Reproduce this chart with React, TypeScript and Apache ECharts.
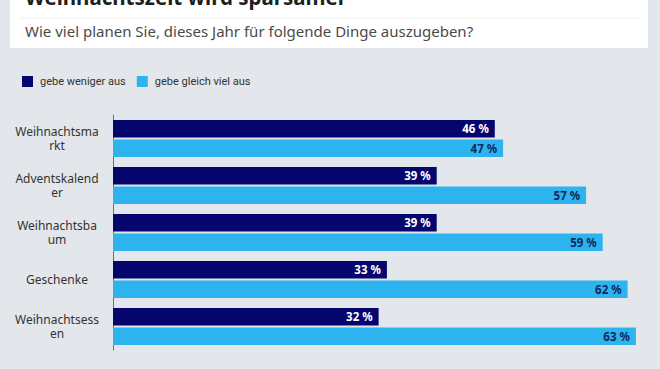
import React, { useEffect, useRef } from "react";
import * as echarts from "echarts";

const categories = ["Weihnachtsmarkt", "Adventskalender", "Weihnachtsbaum", "Geschenke", "Weihnachtsessen"];
const categoryLabels = ["Weihnachtsma\nrkt", "Adventskalend\ner", "Weihnachtsba\num", "Geschenke", "Weihnachtsess\nen"];
const seriesNames = ["gebe weniger aus", "gebe gleich viel aus"];
const wenigerValues = [46, 39, 39, 33, 32];
const gleichValues = [47, 57, 59, 62, 63];
const title = "Weihnachtszeit wird sparsamer";
const subtitle = "Wie viel planen Sie, dieses Jahr für folgende Dinge auszugeben?";

const DARK = "#05056e";
const LIGHT = "#2db4ef";
const BG = "#e3e6ea";

export default function App() {
  const ref = useRef<HTMLDivElement>(null);
  useEffect(() => {
    if (!ref.current) return;
    const chart = echarts.init(ref.current, undefined, { renderer: "svg" });
    chart.setOption({
      animation: false,
      backgroundColor: BG,
      graphic: [
        { type: "rect", shape: { x: 10, y: -2, width: 638, height: 50 }, style: { fill: "#ffffff" }, z: 0 },
        { type: "line", shape: { x1: 20, y1: 18, x2: 640, y2: 18 }, style: { stroke: "#efefef", lineWidth: 1 } },
        {
          type: "text", x: 25, y: 7,
          style: { text: title, font: "bold 20.5px 'Noto Sans', sans-serif", fill: "#1e1e1e", textVerticalAlign: "bottom" },
        },
        {
          type: "text", x: 25, y: 31,
          style: { text: subtitle, font: "15px 'Noto Sans', sans-serif", fill: "#4a4a4a", textVerticalAlign: "middle" },
        },
      ],
      legend: {
        left: 22, top: 76, padding: 0, itemWidth: 11, itemHeight: 11, itemGap: 11, icon: "rect",
        data: seriesNames,
        textStyle: { fontFamily: "Roboto, sans-serif", fontSize: 11, color: "#333", padding: [0, 0, 0, 2] },
      },
      grid: { left: 113, top: 115, width: 539.5, height: 235, containLabel: false },
      xAxis: {
        type: "value", min: 0, max: 65, show: false,
      },
      yAxis: {
        type: "category", data: categories, inverse: true,
        axisLine: { show: true, lineStyle: { color: "#6a6f80", width: 1 } },
        axisTick: { show: false },
        axisLabel: {
          margin: 56, align: "center", fontSize: 12, color: "#333", lineHeight: 14,
          fontFamily: "'Noto Sans', sans-serif",
          formatter: (v: string) => categoryLabels[categories.indexOf(v)],
        },
      },
      series: [
        {
          name: seriesNames[0], type: "bar", data: wenigerValues, barWidth: 17.5, barGap: "12%",
          itemStyle: { color: DARK },
          label: { show: true, position: "insideRight", distance: 6, formatter: "{c} %", color: "#ffffff", fontWeight: "bold", fontSize: 11.5, fontFamily: "'Noto Sans', sans-serif" },
        },
        {
          name: seriesNames[1], type: "bar", data: gleichValues, barWidth: 17.5, barGap: "12%",
          itemStyle: { color: LIGHT },
          label: { show: true, position: "insideRight", distance: 6, formatter: "{c} %", color: "#0c2a5e", fontWeight: "bold", fontSize: 11.5, fontFamily: "'Noto Sans', sans-serif" },
        },
      ],
    });
    return () => chart.dispose();
  }, []);
  return <div ref={ref} style={{ width: 660, height: 369, position: "fixed", left: 0, top: 0 }} />;
}
